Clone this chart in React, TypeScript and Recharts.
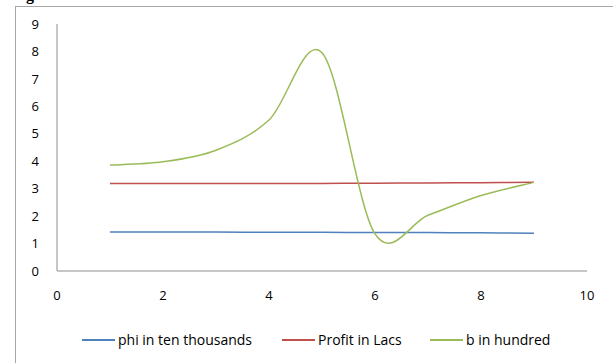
import React from "react";
import { LineChart, Line, XAxis, YAxis, Legend } from "recharts";

const xValues = [1, 2, 3, 4, 5, 6, 7, 8, 9];
const phiValues = [1.42, 1.42, 1.42, 1.41, 1.41, 1.4, 1.4, 1.39, 1.38];
const profitValues = [3.19, 3.19, 3.19, 3.19, 3.19, 3.2, 3.21, 3.22, 3.23];
const bValues = [3.86, 3.98, 4.4, 5.5, 7.95, 1.35, 2.03, 2.75, 3.23];
const xTicks = [0, 2, 4, 6, 8, 10];
const yTicks = [0, 1, 2, 3, 4, 5, 6, 7, 8, 9];

const SERIES = [
  { key: "phi", name: "phi in ten thousands", color: "#4F81BD" },
  { key: "profit", name: "Profit in Lacs", color: "#C0504D" },
  { key: "b", name: "b in hundred", color: "#9BBB59" },
];

const data = xValues.map((x, i) => ({
  x,
  phi: phiValues[i],
  profit: profitValues[i],
  b: bValues[i],
}));

// Excel-style smoothed line (Catmull-Rom as cubic beziers)
const excelCurve = (context: any) => {
  let pts: number[][] = [];
  return {
    areaStart() {},
    areaEnd() {},
    lineStart() {
      pts = [];
    },
    lineEnd() {
      const n = pts.length;
      if (!n) return;
      context.moveTo(pts[0][0], pts[0][1]);
      for (let i = 0; i < n - 1; i++) {
        const p0 = pts[Math.max(i - 1, 0)];
        const p1 = pts[i];
        const p2 = pts[i + 1];
        const p3 = pts[Math.min(i + 2, n - 1)];
        context.bezierCurveTo(
          p1[0] + (p2[0] - p0[0]) / 6,
          p1[1] + (p2[1] - p0[1]) / 6,
          p2[0] - (p3[0] - p1[0]) / 6,
          p2[1] - (p3[1] - p1[1]) / 6,
          p2[0],
          p2[1]
        );
      }
    },
    point(x: number, y: number) {
      pts.push([+x, +y]);
    },
  };
};

const FONT = "'Open Sans', Lato, sans-serif";

const LegendContent = () => (
  <div style={{ position: "relative", height: 20, fontFamily: FONT, fontSize: 14, color: "#000" }}>
    {SERIES.map((s, i) => (
      <div
        key={s.key}
        style={{
          position: "absolute",
          left: [82, 282, 430][i],
          top: 0,
          display: "flex",
          alignItems: "center",
          whiteSpace: "nowrap",
        }}
      >
        <span style={{ display: "inline-block", width: 33, height: 2, background: s.color, marginRight: 3 }} />
        <span>{s.name}</span>
      </div>
    ))}
  </div>
);

const App = () => {
  return (
    <div style={{ position: "absolute", left: 0, top: 0, width: 613, height: 363, overflow: "hidden", background: "#fff" }}>
      <div
        style={{
          position: "absolute",
          left: 15,
          top: 6,
          width: 620,
          height: 380,
          border: "1px solid #a6a6a6",
        }}
      />
      <div
        style={{
          position: "absolute",
          left: 26,
          top: -14,
          fontFamily: "'Liberation Serif', serif",
          fontWeight: "bold",
          fontSize: 16,
        }}
      >
        g
      </div>
      <div style={{ position: "absolute", left: 0, top: 0 }}>
        <LineChart
          width={613}
          height={363}
          data={data}
          margin={{ top: 24, right: 26, left: 0, bottom: 62 }}
        >
          <XAxis
            dataKey="x"
            type="number"
            domain={[0, 10]}
            ticks={xTicks}
            tickLine={false}
            tickSize={0}
            tickMargin={20}
            height={30}
            axisLine={{ stroke: "#b3b3b3", strokeWidth: 1.5 }}
            tick={{ fill: "#000", fontSize: 13, fontFamily: FONT }}
          />
          <YAxis
            type="number"
            domain={[0, 9]}
            ticks={yTicks}
            tickLine={false}
            tickSize={0}
            tickMargin={18}
            width={57}
            axisLine={{ stroke: "#b3b3b3", strokeWidth: 1.5 }}
            tick={{ fill: "#000", fontSize: 13, fontFamily: FONT }}
          />
          {SERIES.map((s) => (
            <Line
              key={s.key}
              dataKey={s.key}
              name={s.name}
              type={excelCurve as any}
              stroke={s.color}
              strokeWidth={1.5}
              dot={false}
              activeDot={false}
              isAnimationActive={false}
            />
          ))}
          <Legend
            layout="horizontal"
            verticalAlign="middle"
            align="center"
            wrapperStyle={{ top: 330, left: 0, width: 613 }}
            content={<LegendContent />}
          />
        </LineChart>
      </div>
    </div>
  );
};

export default App;
